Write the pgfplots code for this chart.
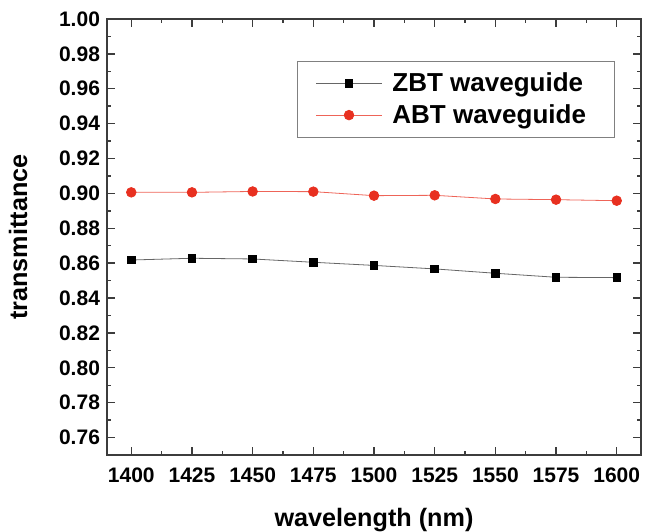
\documentclass[border=0pt]{standalone}
\usepackage{fontspec}
\setmainfont{Liberation Sans}
\usepackage{pgfplots}
\pgfplotsset{compat=1.18}
\definecolor{abtred}{RGB}{232,48,32}
\definecolor{axisgray}{RGB}{60,60,60}

\begin{document}
\begin{tikzpicture}
\begin{axis}[
    scale only axis,
    width=267pt, height=218pt,
    xmin=1390, xmax=1610,
    ymin=0.75, ymax=1.00,
    xtick={1400,1425,...,1600},
    ytick={0.76,0.78,...,1.001},
    minor x tick num=1,
    minor y tick num=1,
    tick align=inside,
    major tick length=4pt,
    minor tick length=2pt,
    axis line style={axisgray, line width=0.8pt},
    every tick/.style={axisgray, line width=0.7pt},
    /pgf/number format/assume math mode=true,
    x tick label style={/pgf/number format/1000 sep={}, yshift=-3pt},
    y tick label style={/pgf/number format/.cd, fixed, fixed zerofill, precision=2},
    tick label style={font=\fontsize{10.5}{12}\selectfont\bfseries},
    xlabel={\bfseries wavelength (nm)},
    ylabel={\bfseries transmittance},
    label style={font=\fontsize{12.6}{14}\selectfont},
    xlabel style={yshift=-6pt},
    ylabel style={yshift=9pt},
    legend cell align=left,
    legend style={at={(rel axis cs:0.356,0.904)}, anchor=north west,
        draw=gray, line width=0.5pt,
        font=\fontsize{13}{17}\selectfont\bfseries,
        inner xsep=9pt, inner ysep=3.5pt,
        row sep=1pt,
        nodes={inner xsep=5pt},
    },
    legend image code/.code={
        \draw[mark repeat=2, mark phase=2, #1]
            plot coordinates {(0pt,0pt) (16.5pt,0pt) (33pt,0pt)};
    },
]
\addplot[black!60, line width=0.4pt, mark=square*,
    mark options={black, solid, scale=0.95}]
    coordinates {(1400,0.8618) (1425,0.8628) (1450,0.8624) (1475,0.8605)
                 (1500,0.8587) (1525,0.8567) (1550,0.8542) (1575,0.8519) (1600,0.8517)};
\addplot[abtred!75, line width=0.4pt, mark=*,
    mark options={abtred, solid, scale=1.2}]
    coordinates {(1400,0.9006) (1425,0.9006) (1450,0.9011) (1475,0.9010)
                 (1500,0.8987) (1525,0.8989) (1550,0.8968) (1575,0.8964) (1600,0.8958)};
\legend{ZBT waveguide, ABT waveguide}
\coordinate (sw) at (rel axis cs:0,0);
\coordinate (ne) at (rel axis cs:1,1);
\end{axis}
\pgfresetboundingbox
\useasboundingbox ([xshift=-53.5pt,yshift=-38.5pt]sw) rectangle ([xshift=2pt,yshift=9.5pt]ne);
\end{tikzpicture}
\end{document}
